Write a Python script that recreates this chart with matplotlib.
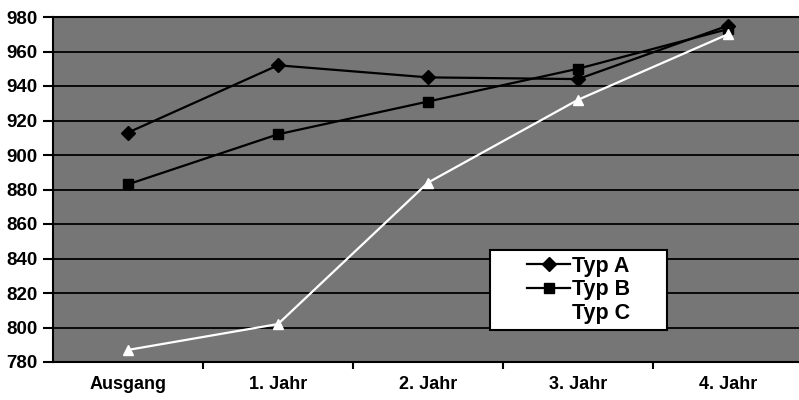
import matplotlib.pyplot as plt
from matplotlib.patches import Rectangle
from matplotlib.ticker import FixedLocator, MultipleLocator

plt.rcParams['font.family'] = ['Liberation Sans', 'DejaVu Sans']
plt.rcParams['font.weight'] = 'bold'

kategorien = ["Ausgang", "1. Jahr", "2. Jahr", "3. Jahr", "4. Jahr"]
typ_a = [913, 952, 945, 944, 975]
typ_b = [883, 912, 931, 950, 973]
typ_c = [787, 802, 884, 932, 970]

fig = plt.figure(figsize=(7.99, 4.0), dpi=100)
# plot area runs a little past the right edge
ax = fig.add_axes([53 / 799, 38 / 400, 750 / 799, 345 / 400])
ax.set_facecolor("#767676")

x = range(len(kategorien))
ax.plot(x, typ_a, color="black", lw=1.6, marker="D", ms=7, label="Typ A", zorder=3)
ax.plot(x, typ_b, color="black", lw=1.6, marker="s", ms=7, label="Typ B", zorder=3)
ax.plot(x, typ_c, color="white", lw=1.6, marker="^", ms=7, label="Typ C", zorder=3)

ax.set_ylim(780, 980)
ax.set_xlim(-0.5, 4.5)
ax.yaxis.set_major_locator(MultipleLocator(20))
ax.grid(axis="y", color="black", lw=1.3, zorder=1)
ax.set_axisbelow(True)

ax.set_xticks(list(x))
ax.set_xticklabels(kategorien)
ax.xaxis.set_minor_locator(FixedLocator([0.5, 1.5, 2.5, 3.5]))
ax.tick_params(axis="x", which="major", length=0, pad=10, labelsize=13)
ax.tick_params(axis="x", which="minor", length=5, width=1.5, direction="out")
ax.tick_params(axis="y", length=7, width=1.5, pad=4, labelsize=13.5)

for s in ax.spines.values():
    s.set_color("black")
    s.set_linewidth(1.5)

# white legend box, entries placed inside without their own frame
ax.add_patch(Rectangle((0.583, 0.093), 0.236, 0.232, transform=ax.transAxes,
                       facecolor="white", edgecolor="black", lw=1.5, zorder=4))
leg = ax.legend(loc="center left", bbox_to_anchor=(0.632, 0.209),
                frameon=False, fontsize=15.5, handlelength=2.0,
                handletextpad=0.1, labelspacing=0.12, borderpad=0,
                borderaxespad=0)
leg.set_zorder(5)

plt.savefig("out.png", dpi=100)
